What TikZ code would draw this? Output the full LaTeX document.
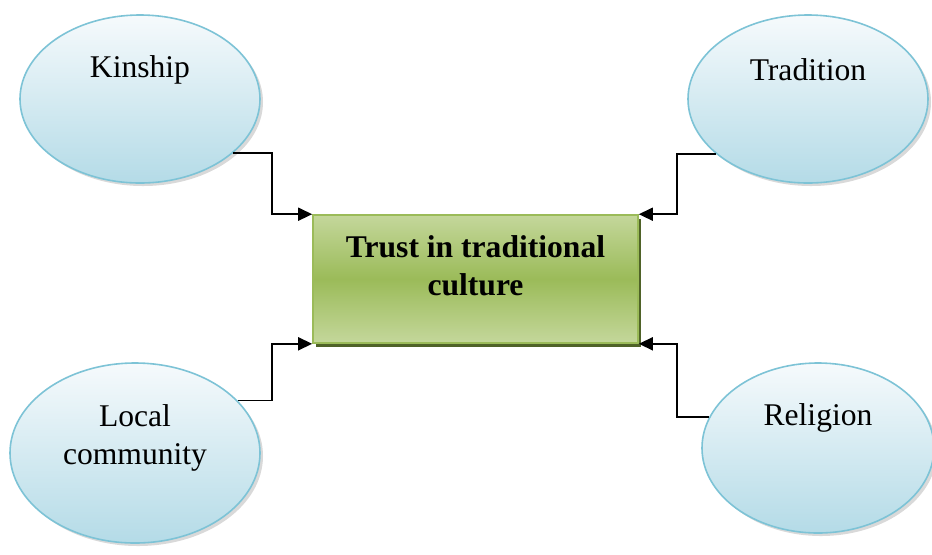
\documentclass[tikz,border=0pt]{standalone}
\usepackage{fontspec}
\setmainfont{Liberation Serif}
\usepackage{tikz}
\usetikzlibrary{shapes.geometric,arrows.meta,positioning,calc,shadows}
\definecolor{SkyEdge}{RGB}{125, 195, 214}
\definecolor{SkyLow}{RGB}{180, 219, 231}
\definecolor{SkyTop}{RGB}{246, 250, 252}
\definecolor{LeafMid}{RGB}{155, 187, 89}
\definecolor{LeafLight}{RGB}{196, 215, 155}
\definecolor{LeafShadow}{RGB}{79, 98, 40}

\begin{document}
\begin{tikzpicture}[x=0.5pt, y=-0.5pt,
    font=\fontsize{15.8}{19}\selectfont,
    factor/.style={ellipse, draw=SkyEdge, line width=0.8pt, top color=SkyTop, bottom color=SkyLow,
      inner sep=0pt, drop shadow={shadow xshift=1.5pt, shadow yshift=-1.5pt, opacity=0.3, fill=gray}},
    trustbox/.style={rectangle, draw=LeafMid, line width=0.8pt, top color=LeafLight, bottom color=LeafLight,
      middle color=LeafMid, minimum width=162.5pt, minimum height=64pt,
      drop shadow={shadow xshift=1.5pt, shadow yshift=-2pt, opacity=1, fill=LeafShadow}},
    lbl/.style={align=center, inner sep=0pt},
    link/.style={line width=0.8pt, -{Triangle[length=7pt, width=6.5pt]}}]
  \useasboundingbox (0, 0) rectangle (932, 554);

  % Central box
  \node[trustbox] (trust) at (475.5, 279) {};
  \node[lbl, font=\fontsize{15.8}{19}\selectfont\bfseries] (trusttxt) at ([yshift=6.5pt]trust.center) {Trust in traditional\\culture};

  % Factors
  \node[factor, minimum width=120pt, minimum height=84pt] (kin) at (140, 99) {};
  \node[lbl] (kintxt) at ([yshift=14.5pt]kin.center) {Kinship};

  \node[factor, minimum width=120pt, minimum height=84pt] (trad) at (808, 99) {};
  \node[lbl] (tradtxt) at ([yshift=14.5pt]trad.center) {Tradition};

  \node[factor, minimum width=125pt, minimum height=90pt] (local) at (135, 453) {};
  \node[lbl] (localtxt) at ([yshift=7.5pt]local.center) {Local\\community};

  \node[factor, minimum width=116pt, minimum height=85pt] (relig) at (818, 448) {};
  \node[lbl] (religtxt) at ([yshift=15pt]relig.center) {Religion};

  % Connectors
  \draw[link] (kin.-30) -| ([xshift=-20pt]trust.north west) -- (trust.north west);
  \draw[link] (trad.-149) -| ([xshift=19pt]trust.north east) -- (trust.north east);
  \draw[link] (local.27) -| ([xshift=-20pt]trust.south west) -- (trust.south west);
  \draw[link] (relig.164) -| ([xshift=19pt]trust.south east) -- (trust.south east);
\end{tikzpicture}
\end{document}
